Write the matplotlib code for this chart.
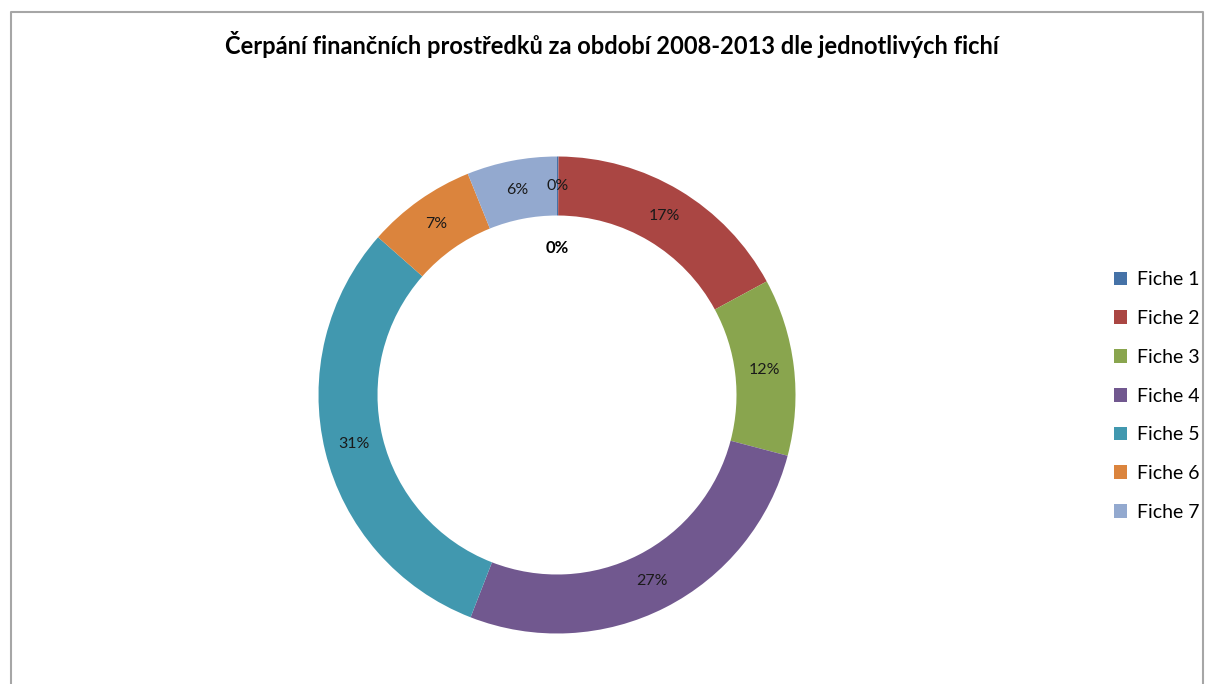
import matplotlib.pyplot as plt
import numpy as np
from matplotlib.patches import Patch

plt.rcParams['font.family'] = ['Lato', 'DejaVu Sans']

title = "Čerpání finančních prostředků za období 2008-2013 dle jednotlivých fichí"
categories = ["Fiche 1", "Fiche 2", "Fiche 3", "Fiche 4", "Fiche 5", "Fiche 6", "Fiche 7"]
shares = [0.1, 17.0, 12.0, 26.8, 30.6, 7.4, 6.1]
colors = ["#4572A7", "#AA4643", "#89A54E", "#71588F", "#4198AF", "#DB843D", "#93A9CF"]


def main():
    W, H = 1205, 684
    fig = plt.figure(figsize=(W / 100, H / 100), dpi=100)
    ax = fig.add_axes([0, 0, 1, 1])

    cx, cy, R, ring = 557, H - 395, 238.5, 59
    labels = [f"{round(v)}%" for v in shares]
    ax.pie(shares, colors=colors, startangle=90, counterclock=False,
           center=(cx, cy), radius=R, wedgeprops=dict(width=ring, linewidth=0))
    ax.set_xlim(0, W)
    ax.set_ylim(0, H)
    ax.set_aspect('equal')
    ax.axis('off')

    # chart frame (grey border, bottom runs off the image)
    ax.plot([11, 11, 1203, 1203], [0, H - 12, H - 12, 0], color='#a6a6a6', lw=1.5)

    start = 90.0
    total = sum(shares)
    rmid = R - ring / 2
    for v, lab in zip(shares, labels):
        mid = start - v / total * 360 / 2
        start -= v / total * 360
        a = np.deg2rad(mid)
        ax.text(cx + rmid * np.cos(a), cy + rmid * np.sin(a), lab,
                ha='center', va='center', fontsize=11.5, color='#1a1a1a')
    ax.text(cx, H - 248, "0%", ha='center', va='center', fontsize=12,
            fontweight='bold', color='black')

    ax.text(612, H - 45, title, ha='center', va='center', fontsize=17,
            fontweight='bold', color='black')

    handles = [Patch(facecolor=c, edgecolor='none') for c in colors]
    fig.legend(handles, categories, loc='center left',
               bbox_to_anchor=(1096 / W, 1 - 396 / H), frameon=False,
               fontsize=14, labelspacing=1.12, handlelength=0.7,
               handleheight=0.7, handletextpad=0.5)

    fig.savefig("out.png", dpi=100, facecolor='white')


if __name__ == "__main__":
    main()
